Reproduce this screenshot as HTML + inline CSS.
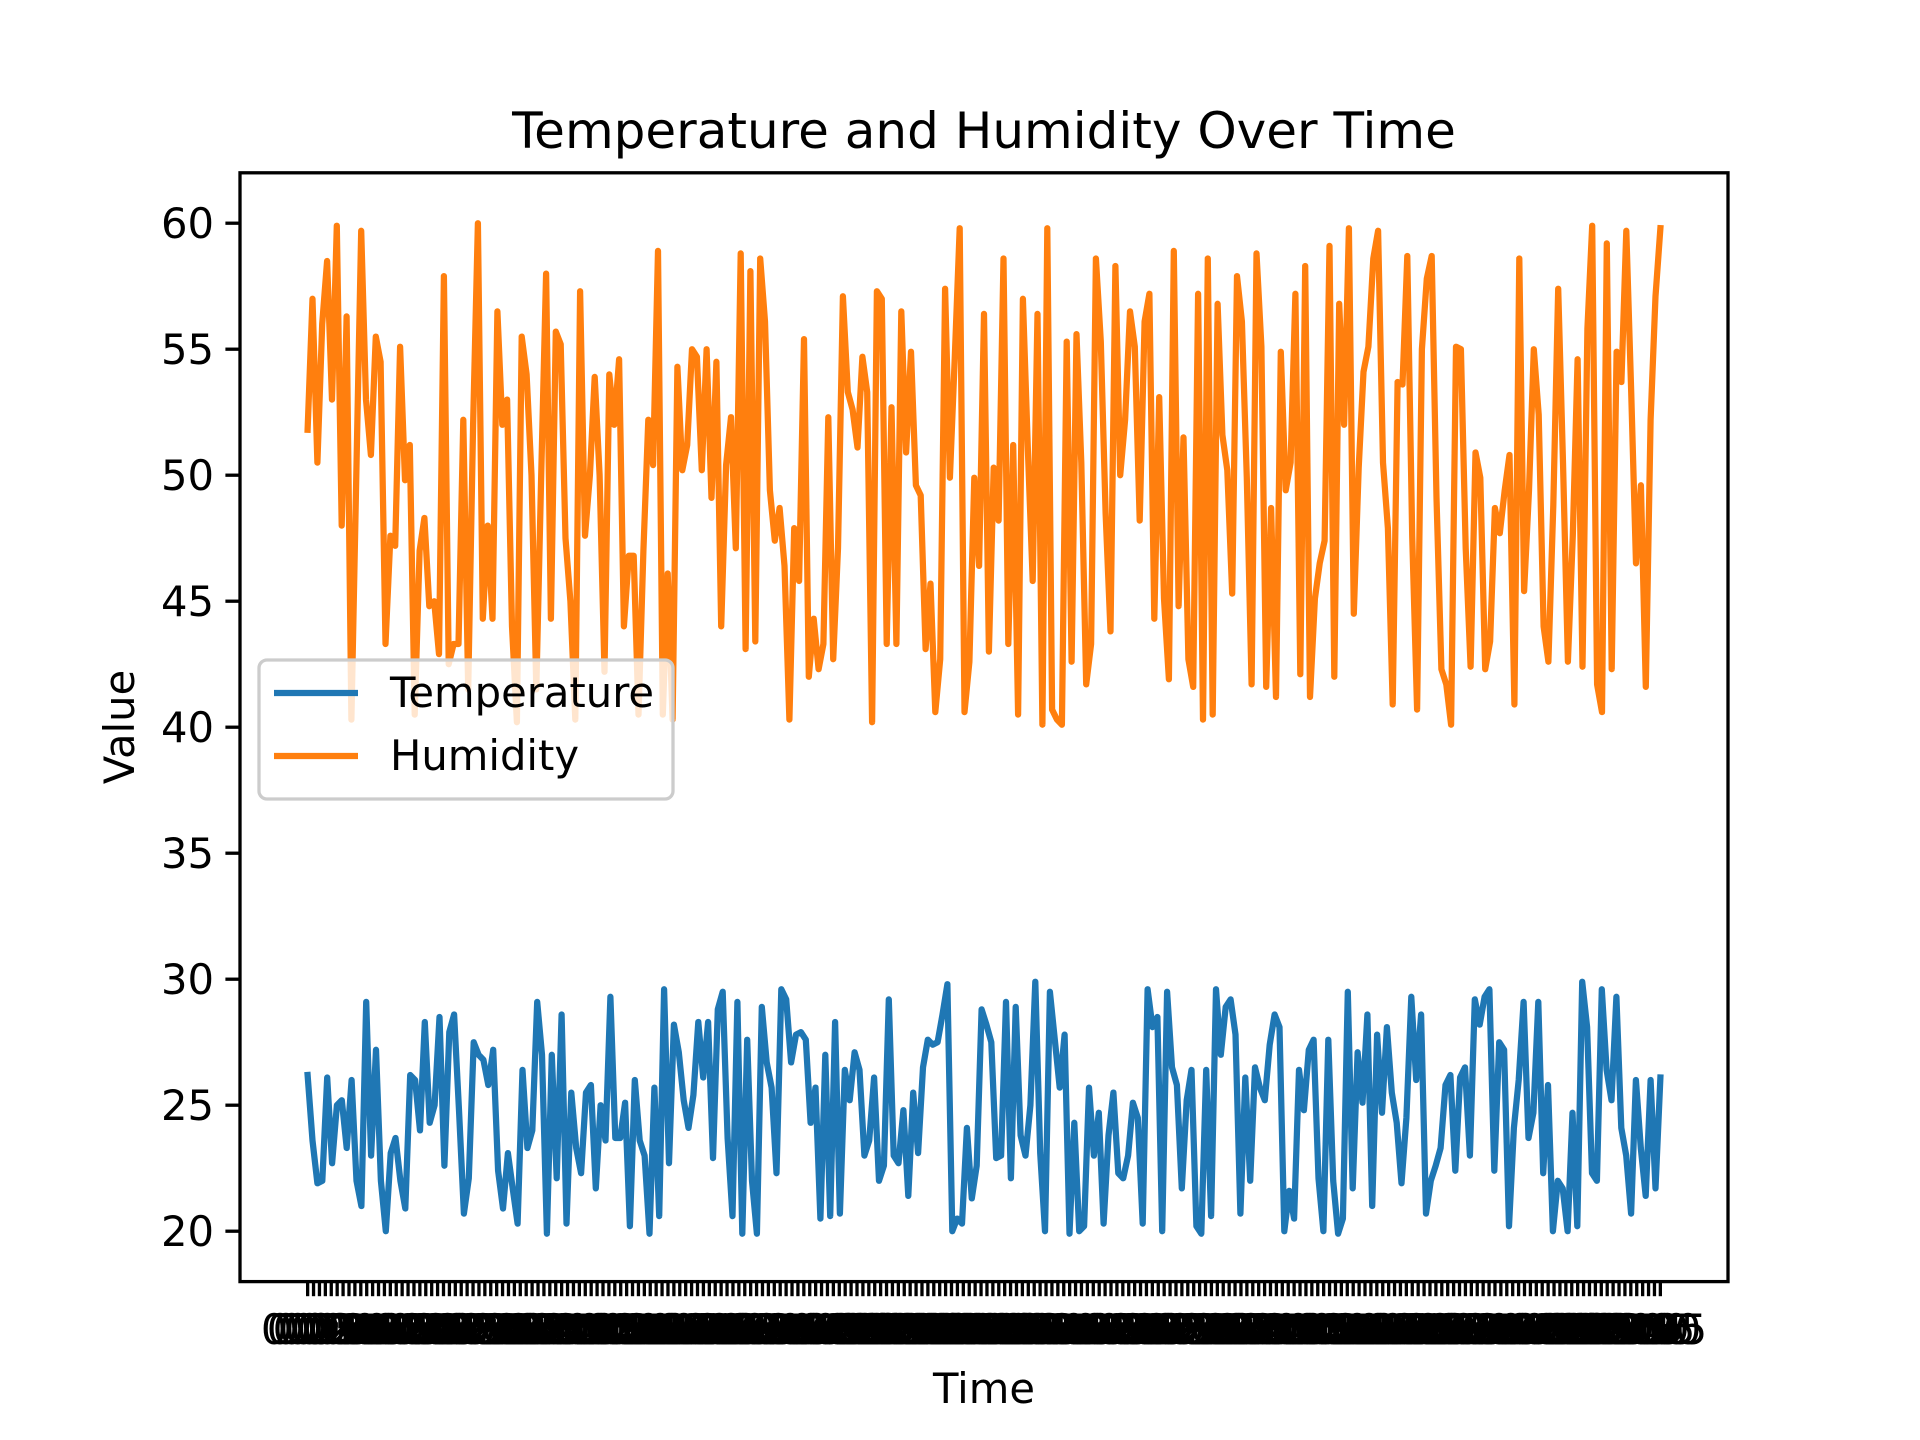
<!DOCTYPE html>
<html><head><meta charset="utf-8"><title>Temperature and Humidity Over Time</title>
<style>html,body{margin:0;padding:0;background:#fff}svg{display:block}</style></head>
<body>
<svg id="chart" xmlns="http://www.w3.org/2000/svg" width="1920" height="1440" viewBox="0 0 1920 1440" font-family="DejaVu Sans, Liberation Sans, sans-serif">
<rect x="0" y="0" width="1920" height="1440" fill="#fff"/>
<g id="xticks"></g>
<g id="yticks"></g>
<g id="plot"></g>
<rect x="240" y="172.8" width="1488" height="1108.8" fill="none" stroke="#000" stroke-width="3.3"/>
<text x="984" y="148" font-size="50" text-anchor="middle">Temperature and Humidity Over Time</text>
<text x="984" y="1403" font-size="41.7" text-anchor="middle">Time</text>
<text transform="translate(134,727) rotate(-90)" font-size="41.7" text-anchor="middle">Value</text>
<g>
<rect x="259" y="660" width="414" height="139" rx="8" fill="#fff" fill-opacity="0.8" stroke="#cccccc" stroke-width="3.3"/>
<line x1="274" y1="693" x2="358" y2="693" stroke="#1f77b4" stroke-width="6.25"/>
<text x="390" y="707" font-size="41.7">Temperature</text>
<line x1="274" y1="756" x2="358" y2="756" stroke="#ff7f0e" stroke-width="6.25"/>
<text x="390" y="770" font-size="41.7">Humidity</text>
</g>
</svg>
<script>
const yTickValues = [20,25,30,35,40,45,50,55,60];
const humidity = [51.8,57,50.5,56,58.5,53,59.9,48,56.3,40.3,50,59.7,53,50.8,55.5,54.5,43.3,47.6,47.2,55.1,49.8,51.2,40.5,47,48.3,44.8,45,42.9,57.9,42.5,43.3,43.3,52.2,41.5,52,60,44.3,48,44.3,56.5,52,53,44,40.2,55.5,54,50,41.5,50,58,44.3,55.7,55.2,47.5,45,40.3,57.3,47.6,50,53.9,50,42.2,54,52,54.6,44,46.8,46.8,40.5,47,52.2,50.4,
58.9,40.5,46.1,40.3,54.3,50.2,51.2,55,54.7,50.2,55,49.1,54.5,44,50.4,52.3,47.1,58.8,43.1,58.1,43.4,58.6,56.1,49.4,47.4,48.7,46.4,40.3,47.9,45.8,55.4,42,44.3,42.3,43.3,52.3,42.7,47.1,57.1,53.3,52.6,51.1,54.7,53.3,40.2,57.3,57,43.3,52.7,43.3,56.5,50.9,54.9,49.6,49.2,43.1,45.7,40.6,42.7,57.4,49.9,54.7,59.8,40.6,
42.6,49.9,46.4,56.4,43,50.3,48.2,58.6,43.3,51.2,40.5,57,51.1,45.8,56.4,40.1,59.8,40.7,40.3,40.1,55.3,42.6,55.6,50.5,41.7,43.3,58.6,55.3,48.5,43.8,58.3,50,52.2,56.5,55.1,48.2,56.1,57.2,44.3,53.1,45.1,41.9,58.9,44.8,51.5,42.7,41.6,57.2,40.3,58.6,40.5,56.8,51.6,50.2,45.3,57.9,56.1,49.9,41.7,58.8,55.1,41.6,48.7,41.2,54.9,49.4,50.5,57.2,42.1,58.3,41.2,
45.1,46.5,47.4,59.1,42,56.8,52,59.8,44.5,50.3,54.1,55.1,58.6,59.7,50.5,47.9,40.9,53.7,53.6,58.7,47.6,40.7,55,57.8,58.7,49.1,42.3,41.7,40.1,55.1,55,47.1,42.4,50.9,49.9,42.3,43.4,48.7,47.7,49.4,50.8,40.9,58.6,45.4,49.4,55,52.4,44,42.6,48.8,57.4,50.5,42.6,47.6,54.6,42.4,55.8,59.9,41.7,40.6,59.2,42.3,54.9,53.7,59.7,53.3,46.5,49.6,41.6,52.2,57.1,59.8];
const temperature = [26.2,23.6,21.9,22,26.1,22.7,25,25.2,23.3,26,22,21,29.1,23,27.2,22,20,23.1,23.7,22,20.9,26.2,26,24,28.3,24.3,25,28.5,22.6,27.9,28.6,24.8,20.7,22.1,27.5,27,26.8,25.8,27.2,22.4,20.9,23.1,21.7,20.3,26.4,23.3,24,29.1,27,19.9,27,22.1,28.6,20.3,25.5,23.3,22.3,25.5,25.8,21.7,25,23.6,29.3,23.7,23.7,25.1,20.2,26,23.6,23,
19.9,25.7,20.6,29.6,22.7,28.2,27.1,25.2,24.1,25.4,28.3,26.1,28.3,22.9,28.8,29.5,23.7,20.6,29.1,19.9,27.6,22,19.9,28.9,26.7,25.7,22.3,29.6,29.2,26.7,27.8,27.9,27.6,24.3,25.7,20.5,27,20.6,28.3,20.7,26.4,25.2,27.1,26.4,23,23.6,26.1,22,22.6,29.2,23,22.7,24.8,21.4,25.5,23.1,26.5,27.6,27.4,27.5,28.6,29.8,20,20.5,20.3,24.1,
21.3,22.6,28.8,28.2,27.5,22.9,23,29.1,22.1,28.9,23.8,23,25,29.9,23.1,20,29.5,27.6,25.7,27.8,19.9,24.3,20,20.2,25.7,23,24.7,20.3,23.8,25.5,22.3,22.1,23,25.1,24.5,20.3,29.6,28.1,28.5,20,29.5,26.5,25.8,21.7,25.2,26.4,20.2,19.9,26.4,20.6,29.6,27,28.9,29.2,27.8,20.7,26.1,22,26.5,25.7,25.2,27.4,28.6,28.1,20,21.6,20.5,26.4,24.8,27.2,27.6,22.1,
20,27.6,22,19.9,20.5,29.5,21.7,27.1,25.1,28.6,21,27.8,24.7,28.1,25.5,24.3,21.9,24.5,29.3,26,28.6,20.7,22,22.6,23.3,25.8,26.2,22.4,26.1,26.5,23,29.2,28.2,29.3,29.6,22.4,27.5,27.2,20.2,24.1,26,29.1,23.7,24.7,29.1,22.3,25.8,20,22,21.7,20,24.7,20.2,29.9,28.1,22.3,22,29.6,26.4,25.2,29.3,24.1,23,20.7,26,23.3,21.4,26,21.7,26.1];
const xTickCount = 230;

const NS = 'http://www.w3.org/2000/svg';
const AX = {left:240, right:1728, top:172.8, bottom:1281.6, ymin:18, ymax:62};
const X0 = AX.left + (AX.right-AX.left)*0.05/1.1, X1 = AX.right - (AX.right-AX.left)*0.05/1.1;
function xScale(i, n){ return X0 + (X1-X0)*i/(n-1); }
function yScale(v){ return AX.bottom - (v-AX.ymin)/(AX.ymax-AX.ymin)*(AX.bottom-AX.top); }
function mk(tag, attrs){ const e=document.createElementNS(NS,tag); for(const k in attrs) e.setAttribute(k,attrs[k]); return e; }

const yt = document.getElementById('yticks');
yTickValues.forEach(v=>{
  const y=yScale(v);
  const l=mk('line',{x1:AX.left-14.6,x2:AX.left,y1:y,y2:y,stroke:'#000','stroke-width':3.3});
  
  
  yt.appendChild(l);
  const t=mk('text',{x:AX.left-26,y:y+15,'font-size':41.7,'text-anchor':'end'});
  
  
  t.textContent=String(v);
  yt.appendChild(t);
});

const xt = document.getElementById('xticks');
for(let i=0;i<xTickCount;i++){
  const x=xScale(i,xTickCount);
  const l=mk('line',{x1:x,x2:x,y1:AX.bottom,y2:AX.bottom+14.6,stroke:'#000','stroke-width':3.3});
  
  
  xt.appendChild(l);
  const m=i*5, h=Math.floor(m/60)%10, mm=m%60;
  const t=mk('text',{x:x,y:1344,'font-size':41.7,'text-anchor':'middle'});
  
  
  t.textContent=h+':'+String(mm).padStart(2,'0');
  xt.appendChild(t);
}

const plot=document.getElementById('plot');
function drawSeries(vals,color,name){
  const pts=vals.map((v,i)=>xScale(i,vals.length).toFixed(1)+','+yScale(v).toFixed(1)).join(' ');
  const p=mk('polyline',{points:pts,fill:'none',stroke:color,'stroke-width':6.25,'stroke-linejoin':'round','stroke-linecap':'square'});
  
  
  plot.appendChild(p);
}
drawSeries(temperature,'#1f77b4','temperature-line');
drawSeries(humidity,'#ff7f0e','humidity-line');
</script>
</body></html>
